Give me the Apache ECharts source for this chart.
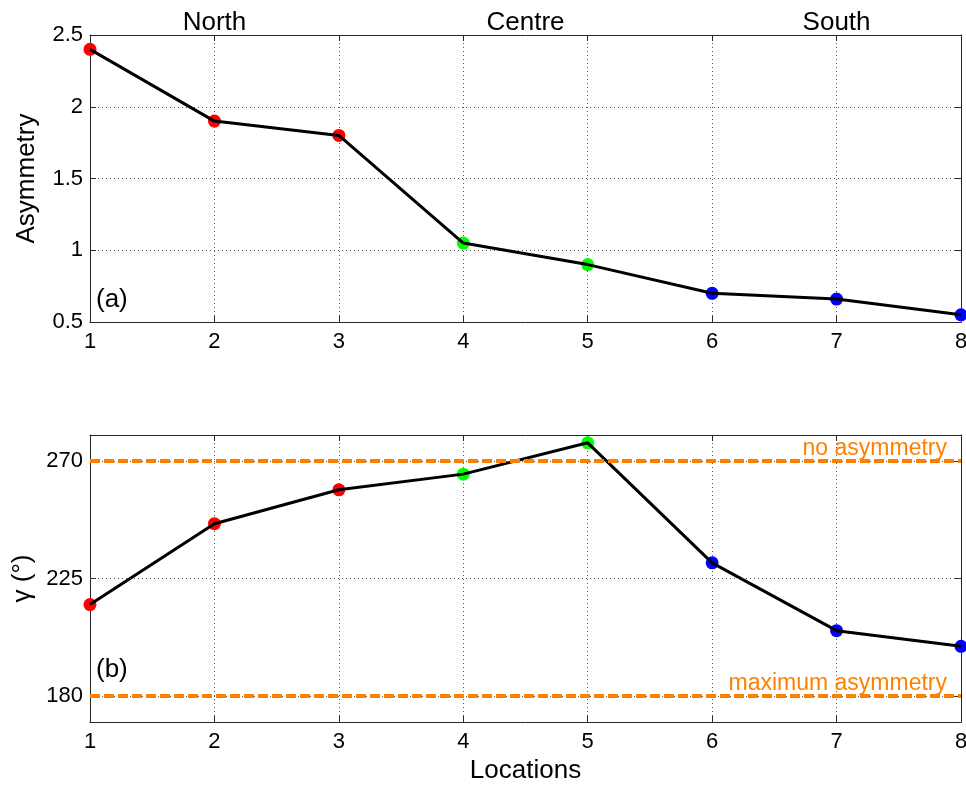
<!DOCTYPE html>
<html>
<head>
<meta charset="utf-8">
<script src="https://cdn.jsdelivr.net/npm/echarts@6/dist/echarts.min.js"></script>
<style>
html,body{margin:0;padding:0;background:#fff;overflow:hidden;}
#chart{width:966px;height:789px;}
</style>
</head>
<body>
<div id="chart"></div>
<script>
// ---- data ----
const locations = [1, 2, 3, 4, 5, 6, 7, 8];
const regionOf = ['North', 'North', 'North', 'Centre', 'Centre', 'South', 'South', 'South'];
const asymmetry = [2.4, 1.9, 1.8, 1.05, 0.9, 0.7, 0.66, 0.55];
const gamma = [215, 246, 259, 265, 277, 231, 205, 199];
const regionNames = ['North', 'Centre', 'South'];
const regionCenters = [2, 4.5, 7];
const asymTicks = [0.5, 1, 1.5, 2, 2.5];
const gammaTicks = [180, 225, 270];
const refLevels = [270, 180];
const refLabels = ['no asymmetry', 'maximum asymmetry'];
const panelLabels = ['(a)', '(b)'];

// ---- styles ----
const regionColor = { North: '#ff0000', Centre: '#00ff00', South: '#0000ff' };
const FONT = 'Liberation Sans, Arial, sans-serif';
const axisCol = '#262626';
const gridLine = { show: true, lineStyle: { color: '#555', type: [1, 3], width: 1 } };

function pts(ys) { return locations.map((x, i) => [x, ys[i]]); }
function markerPts(ys) {
  return locations.map((x, i) => ({ value: [x, ys[i]], itemStyle: { color: regionColor[regionOf[i]], opacity: 1 } }));
}

const baseX = {
  type: 'value', min: 1, max: 8, interval: 1,
  axisLine: { show: true, lineStyle: { color: axisCol, width: 1 } },
  axisTick: { show: true, inside: true, length: 6, lineStyle: { color: axisCol } },
  axisLabel: { fontFamily: FONT, fontSize: 22, color: '#000', margin: 9 },
  splitLine: gridLine
};

const chart = echarts.init(document.getElementById('chart'), null, { renderer: 'canvas' });
chart.setOption({
  backgroundColor: '#fff',
  animation: false,
  grid: [
    { left: 90, right: 5, top: 35, height: 287, outerBoundsMode: 'none', containLabel: false },
    { left: 90, right: 5, top: 435, height: 287, outerBoundsMode: 'none', containLabel: false }
  ],
  xAxis: [
    Object.assign({}, baseX, { gridIndex: 0, position: 'bottom' }),
    Object.assign({}, baseX, {
      gridIndex: 0, position: 'top', splitLine: { show: false },
      axisLabel: {
        customValues: regionCenters, fontFamily: FONT, fontSize: 26, color: '#000', margin: -1,
        formatter: v => regionNames[regionCenters.indexOf(v)] || ''
      }
    }),
    Object.assign({}, baseX, {
      gridIndex: 1, position: 'bottom',
      name: 'Locations', nameLocation: 'middle', nameGap: 36,
      nameTextStyle: { fontFamily: FONT, fontSize: 26, color: '#000' }
    }),
    Object.assign({}, baseX, { gridIndex: 1, position: 'top', splitLine: { show: false }, axisLabel: { show: false } })
  ],
  yAxis: [
    {
      gridIndex: 0, type: 'value', position: 'left', min: 0.5, max: 2.5, interval: 0.5,
      name: 'Asymmetry', nameLocation: 'middle', nameGap: 50,
      nameTextStyle: { fontFamily: FONT, fontSize: 26, color: '#000' },
      axisLine: { show: true, lineStyle: { color: axisCol } },
      axisTick: { show: true, inside: true, length: 6, lineStyle: { color: axisCol } },
      axisLabel: { fontFamily: FONT, fontSize: 22, color: '#000', margin: 7, formatter: v => String(v) },
      splitLine: gridLine
    },
    {
      gridIndex: 0, type: 'value', position: 'right', min: 0.5, max: 2.5, interval: 0.5,
      axisLine: { show: true, lineStyle: { color: axisCol } },
      axisTick: { show: true, inside: true, length: 6, lineStyle: { color: axisCol } },
      axisLabel: { show: false }, splitLine: { show: false }
    },
    {
      gridIndex: 1, type: 'value', position: 'left', min: 170, max: 280,
      name: 'γ (°)', nameLocation: 'middle', nameGap: 50,
      nameTextStyle: { fontFamily: FONT, fontSize: 26, color: '#000' },
      axisLine: { show: true, lineStyle: { color: axisCol } },
      axisTick: { show: true, inside: true, length: 6, customValues: gammaTicks, lineStyle: { color: axisCol } },
      axisLabel: { fontFamily: FONT, fontSize: 22, color: '#000', margin: 7, customValues: gammaTicks },
      splitLine: { show: false }
    },
    {
      gridIndex: 1, type: 'value', position: 'right', min: 170, max: 280,
      axisLine: { show: true, lineStyle: { color: axisCol } },
      axisTick: { show: true, inside: true, length: 6, customValues: gammaTicks, lineStyle: { color: axisCol } },
      axisLabel: { show: false, customValues: gammaTicks }, splitLine: { show: false }
    }
  ],
  series: [
    // horizontal grid lines for panel (b)
    {
      type: 'line', xAxisIndex: 2, yAxisIndex: 2, data: [], silent: true, z: 1,
      markLine: {
        silent: true, symbol: ['none', 'none'], animation: false,
        label: { show: false },
        lineStyle: { color: '#555', type: [1, 3], width: 1 },
        data: gammaTicks.map(v => ({ yAxis: v }))
      }
    },
    // reference lines for panel (b)
    {
      type: 'line', xAxisIndex: 2, yAxisIndex: 2, data: [], silent: true, z: 2,
      markLine: {
        silent: true, symbol: ['none', 'none'], animation: false,
        lineStyle: { color: '#ff8000', type: [10, 4], width: 4 },
        label: {
          show: true, position: 'insideEndTop', distance: [14, 1],
          fontFamily: FONT, fontSize: 23, color: '#ff8000',
          formatter: p => refLabels[refLevels.indexOf(p.value)]
        },
        data: refLevels.map(v => ({ yAxis: v }))
      }
    },
    {
      type: 'scatter', xAxisIndex: 0, yAxisIndex: 0, symbol: 'circle', symbolSize: 13, z: 3,
      itemStyle: { opacity: 1 }, data: markerPts(asymmetry)
    },
    {
      type: 'line', xAxisIndex: 0, yAxisIndex: 0, showSymbol: false, symbol: 'none', z: 4,
      lineStyle: { color: '#000', width: 3 }, data: pts(asymmetry)
    },
    {
      type: 'scatter', xAxisIndex: 2, yAxisIndex: 2, symbol: 'circle', symbolSize: 13, z: 3,
      itemStyle: { opacity: 1 }, data: markerPts(gamma)
    },
    {
      type: 'line', xAxisIndex: 2, yAxisIndex: 2, showSymbol: false, symbol: 'none', z: 4,
      lineStyle: { color: '#000', width: 3 }, data: pts(gamma)
    }
  ],
  graphic: [
    { type: 'text', left: 96, top: 287, style: { text: panelLabels[0], font: '26px ' + FONT, fill: '#000' } },
    { type: 'text', left: 96, top: 657, style: { text: panelLabels[1], font: '26px ' + FONT, fill: '#000' } }
  ]
});
</script>
</body>
</html>
